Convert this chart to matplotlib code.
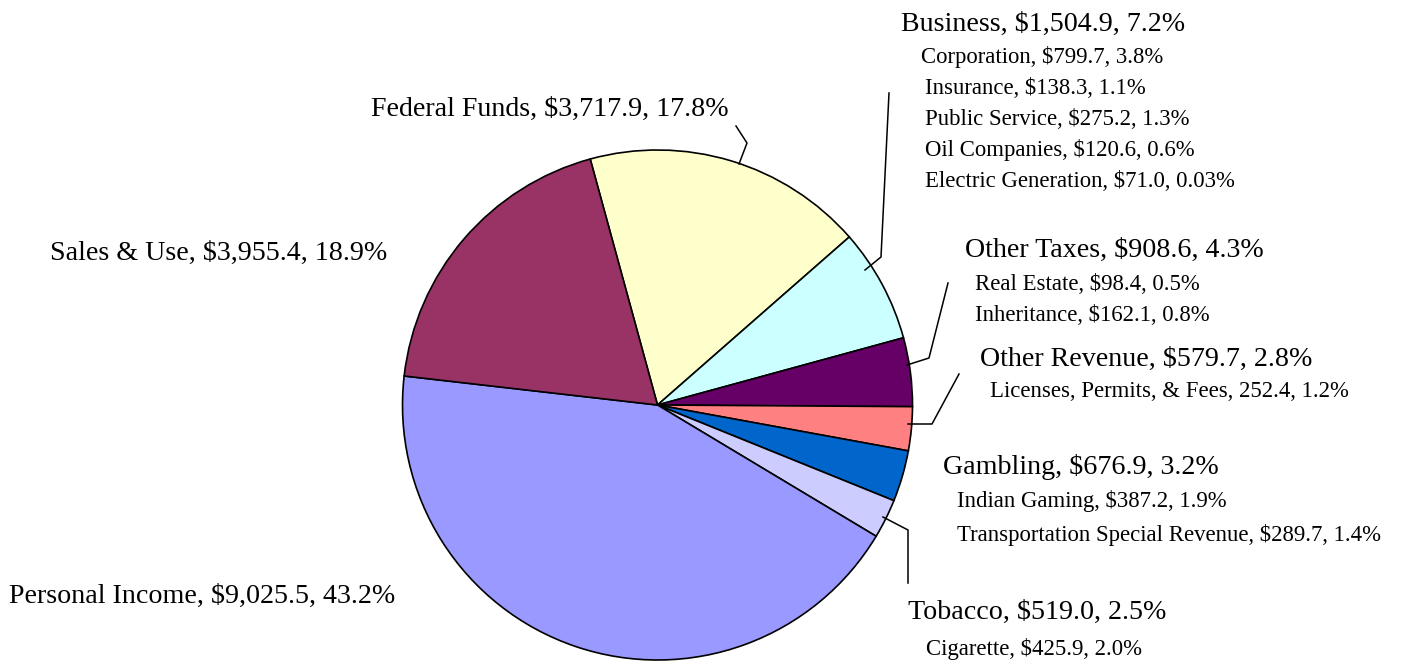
import matplotlib
matplotlib.use('Agg')
import matplotlib.pyplot as plt
from matplotlib.lines import Line2D

W, H = 1422, 664

# slices, clockwise from the top
categories = ['Federal Funds', 'Business', 'Other Taxes', 'Other Revenue',
              'Gambling', 'Tobacco', 'Personal Income', 'Sales & Use']
amounts = [3717.9, 1504.9, 908.6, 579.7, 676.9, 519.0, 9025.5, 3955.4]
percents = [17.8, 7.2, 4.3, 2.8, 3.2, 2.5, 43.2, 18.9]
colors = ['#FFFFCC', '#CCFFFF', '#660066', '#FF8080',
          '#0066CC', '#CCCCFF', '#9999FF', '#993366']

# sub-items listed under some labels
sub_items = {
    'Business': ['Corporation, $799.7, 3.8%',
                 'Insurance, $138.3, 1.1%',
                 'Public Service, $275.2, 1.3%',
                 'Oil Companies, $120.6, 0.6%',
                 'Electric Generation, $71.0, 0.03%'],
    'Other Taxes': ['Real Estate, $98.4, 0.5%',
                    'Inheritance, $162.1, 0.8%'],
    'Other Revenue': ['Licenses, Permits, & Fees, 252.4, 1.2%'],
    'Gambling': ['Indian Gaming, $387.2, 1.9%',
                 'Transportation Special Revenue, $289.7, 1.4%'],
    'Tobacco': ['Cigarette, $425.9, 2.0%'],
}

# label layout in pixels: (x left, baseline) for the main label,
# then x and baseline of each sub line
label_pos = {
    'Federal Funds': (371, 116, []),
    'Business': (901, 31, [(921, 63), (925, 94), (925, 125), (925, 156), (925, 187)]),
    'Other Taxes': (965, 257, [(975, 290), (975, 321)]),
    'Other Revenue': (980, 366, [(990, 397)]),
    'Gambling': (943, 474, [(957, 507), (957, 541)]),
    'Tobacco': (908, 619, [(926, 655)]),
    'Personal Income': (9, 603, []),
    'Sales & Use': (50, 260, []),
}

# leader lines (pixels)
leaders = {
    'Federal Funds': [(739, 164), (747, 143), (736, 126)],
    'Business': [(865, 270), (881, 257), (889, 93)],
    'Other Taxes': [(907, 365), (929, 358), (948, 283)],
    'Other Revenue': [(908, 424), (932, 424), (959, 374)],
    'Tobacco': [(883, 517), (908, 530), (908, 583)],
}

plt.rcParams['font.family'] = ['Liberation Serif', 'DejaVu Serif']

fig = plt.figure(figsize=(W / 100, H / 100), dpi=100)
fig.patch.set_facecolor('white')

cx, cy, r = 657.5, 405, 255
ax = fig.add_axes([(cx - r) / W, (H - cy - r) / H, 2 * r / W, 2 * r / H])
ax.pie(amounts, colors=colors, startangle=105.3, counterclock=False,
       wedgeprops={'edgecolor': 'black', 'linewidth': 1.2, 'clip_on': False})
ax.set_xlim(-1, 1)
ax.set_ylim(-1, 1)
ax.set_aspect('equal')
ax.axis('off')


def px(x, y):
    return x / W, 1 - y / H


for name, pts in leaders.items():
    xs = [p[0] / W for p in pts]
    ys = [1 - p[1] / H for p in pts]
    fig.add_artist(Line2D(xs, ys, color='black', linewidth=1.1,
                          transform=fig.transFigure))

for name, amt, pct in zip(categories, amounts, percents):
    x0, y0, subs = label_pos[name]
    fig.text(*px(x0, y0), f'{name}, ${amt:,.1f}, {pct}%',
             fontsize=20.2, ha='left', va='baseline')
    for line, (xs, ys) in zip(sub_items.get(name, []), subs):
        fig.text(*px(xs, ys), line, fontsize=16.4, ha='left', va='baseline')

fig.savefig('out.png', dpi=100, facecolor='white')
